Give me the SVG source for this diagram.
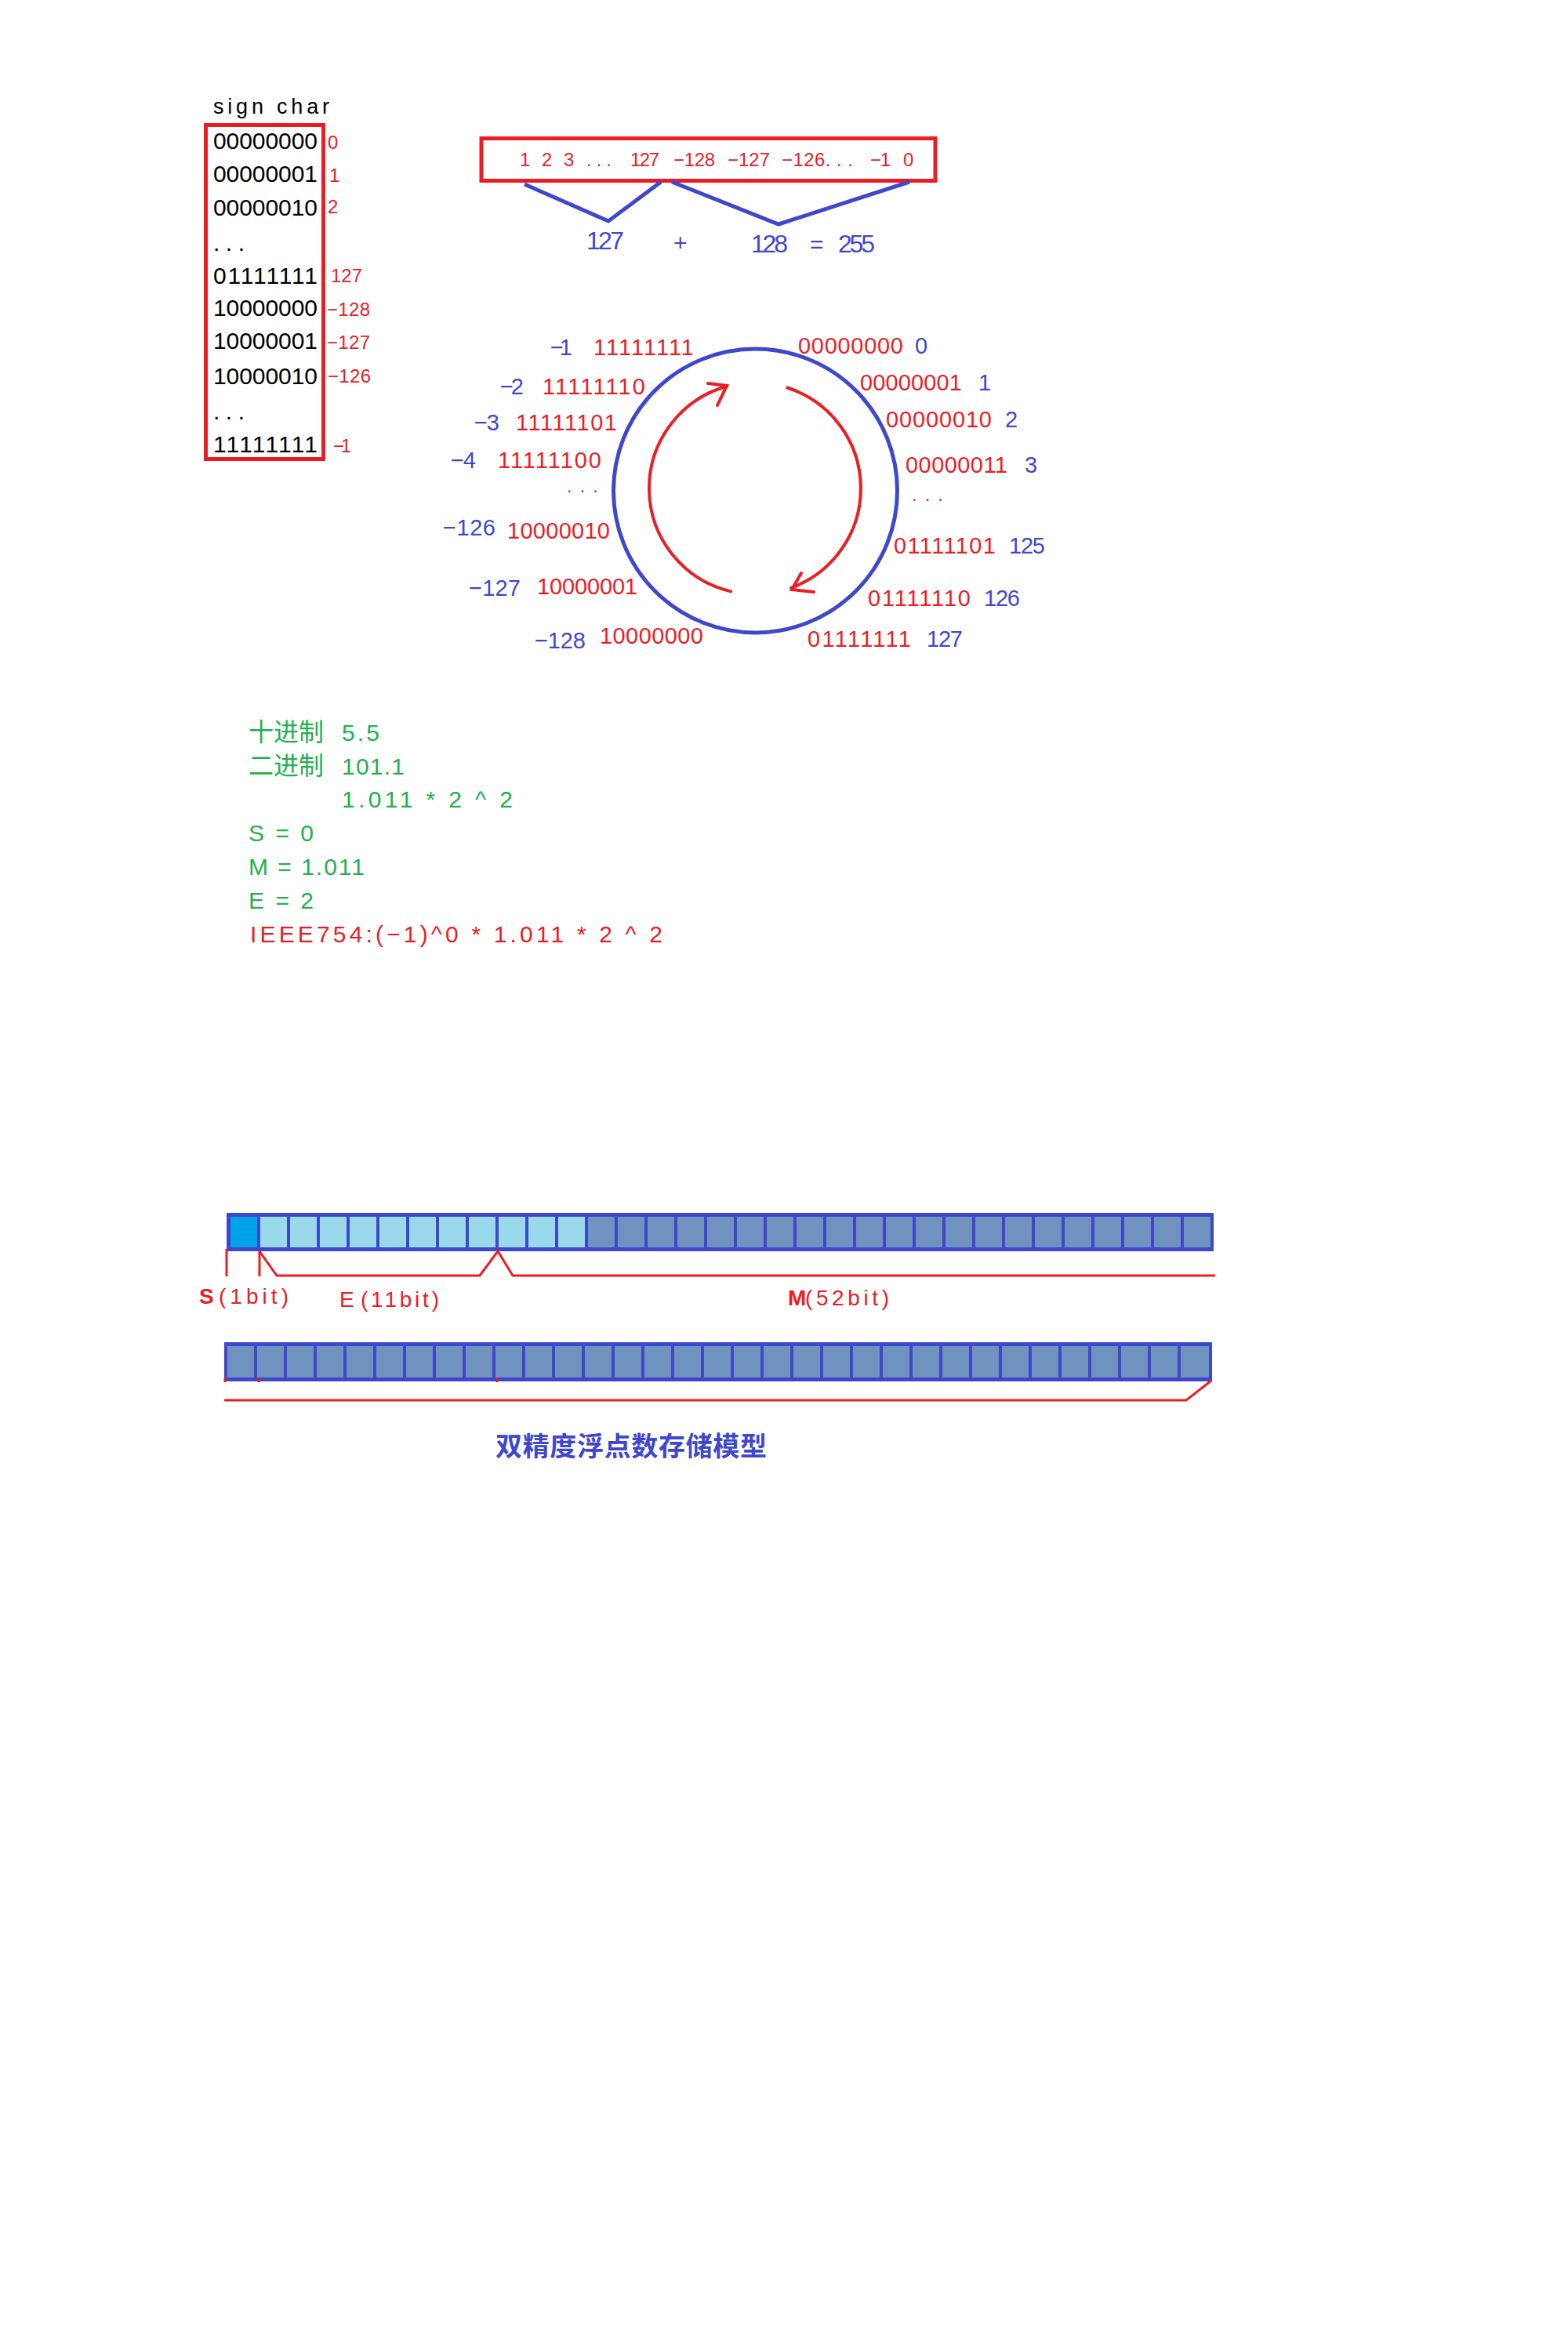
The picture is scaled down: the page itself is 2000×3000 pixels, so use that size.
<svg xmlns="http://www.w3.org/2000/svg" width="2000" height="3000" viewBox="0 0 2000 3000">
<style>
text { font-family: "Liberation Sans", "Noto Sans CJK SC", sans-serif; }
.k { fill:#000000; font-size:30px; }
.r { fill:#ed1c24; }
.b { fill:#3f48cc; }
.g { fill:#22b14c; }
.f24 { font-size:24px; }
.f29 { font-size:29px; }
.f30 { font-size:30px; }
.f28 { font-size:28px; }
.redbox { fill:none; stroke:#ed1c24; stroke-width:5; }
.bline { fill:none; stroke:#3f48cc; stroke-width:5; stroke-linejoin:miter; }
.rline { fill:none; stroke:#ed1c24; stroke-width:3; }
.rarc { fill:none; stroke:#ed1c24; stroke-width:4; stroke-linecap:round; }
.cS { fill:#00a2e8; }
.cE { fill:#99d9ea; }
.cM { fill:#7092be; }
</style>
<rect width="2000" height="3000" fill="#ffffff"/>

<!-- sign char table -->
<g id="signchar">
  <text class="k" x="272" y="145" textLength="148" lengthAdjust="spacing" style="font-size:27px">sign char</text>
  <rect class="redbox" x="262.5" y="159.5" width="150" height="426"/>
  <text class="k" x="272" y="190" textLength="133">00000000</text>
  <text class="k" x="272" y="232" textLength="133">00000001</text>
  <text class="k" x="272" y="275" textLength="133">00000010</text>
  <text class="k" x="272" y="320" textLength="40" lengthAdjust="spacing">. . .</text>
  <text class="k" x="272" y="362" textLength="133">01111111</text>
  <text class="k" x="272" y="403" textLength="133">10000000</text>
  <text class="k" x="272" y="445" textLength="133">10000001</text>
  <text class="k" x="272" y="490" textLength="133">10000010</text>
  <text class="k" x="272" y="535" textLength="40" lengthAdjust="spacing">. . .</text>
  <text class="k" x="272" y="577" textLength="133">11111111</text>
  <text class="r f24" x="418" y="190">0</text>
  <text class="r f24" x="420" y="232">1</text>
  <text class="r f24" x="418" y="272">2</text>
  <text class="r f24" x="422" y="360" textLength="40">127</text>
  <text class="r f24" x="417" y="403" textLength="55">−128</text>
  <text class="r f24" x="417" y="445" textLength="55">−127</text>
  <text class="r f24" x="418" y="488" textLength="55">−126</text>
  <text class="r f24" x="425" y="577" textLength="23">−1</text>
</g>

<!-- sequence box -->
<g id="sequence">
  <rect class="redbox" x="614" y="176.5" width="579" height="54"/>
  <text class="r f24" x="663" y="212">1</text>
  <text class="r f24" x="691" y="212">2</text>
  <text class="r f24" x="719" y="212">3</text>
  <text class="r f24" x="748" y="212" textLength="32" lengthAdjust="spacing">. . .</text>
  <text class="r f24" x="804" y="212" textLength="37">127</text>
  <text class="r f24" x="859" y="212" textLength="53">−128</text>
  <text class="r f24" x="928" y="212" textLength="54">−127</text>
  <text class="r f24" x="997" y="212" textLength="91">−126. . .</text>
  <text class="r f24" x="1110" y="212" textLength="26">−1</text>
  <text class="r f24" x="1152" y="212" textLength="13">0</text>
</g>

<g id="sum">
  <text class="b" x="748" y="318" textLength="48" style="font-size:32px">127</text>
  <text class="b f30" x="859" y="320">+</text>
  <text class="b" x="958" y="322" textLength="47" style="font-size:32px">128</text>
  <text class="b f30" x="1033" y="322">=</text>
  <text class="b" x="1069" y="322" textLength="47" style="font-size:32px">255</text>
</g>

<!-- ring -->
<g id="ring">
  <circle cx="963.5" cy="626" r="181" fill="none" stroke="#3f48cc" stroke-width="5"/>
</g>

<g id="ring-labels-left">
  <text class="b f29" x="702" y="453" textLength="28">−1</text>
  <text class="r f29" x="757" y="453" textLength="128">11111111</text>
  <text class="b f29" x="638" y="503" textLength="30">−2</text>
  <text class="r f29" x="692" y="503" textLength="131">11111110</text>
  <text class="b f29" x="605" y="549" textLength="32">−3</text>
  <text class="r f29" x="658" y="549" textLength="129">11111101</text>
  <text class="b f29" x="575" y="597" textLength="32">−4</text>
  <text class="r f29" x="635" y="597" textLength="132">11111100</text>
  <text class="r f24" x="723" y="628" textLength="40" lengthAdjust="spacing">. . .</text>
  <text class="b f29" x="565" y="683" textLength="67">−126</text>
  <text class="r f29" x="647" y="687" textLength="131">10000010</text>
  <text class="b f29" x="598" y="760" textLength="66">−127</text>
  <text class="r f29" x="685" y="758" textLength="128">10000001</text>
  <text class="b f29" x="682" y="827" textLength="65">−128</text>
  <text class="r f29" x="765" y="821" textLength="132">10000000</text>
</g>

<g id="ring-labels-right">
  <text class="r f29" x="1018" y="451" textLength="134">00000000</text>
  <text class="b f29" x="1167" y="451">0</text>
  <text class="r f29" x="1097" y="498" textLength="130">00000001</text>
  <text class="b f29" x="1248" y="498">1</text>
  <text class="r f29" x="1130" y="545" textLength="135">00000010</text>
  <text class="b f29" x="1282" y="545">2</text>
  <text class="r f29" x="1155" y="603" textLength="130">00000011</text>
  <text class="b f29" x="1307" y="603">3</text>
  <text class="r f24" x="1163" y="639" textLength="40" lengthAdjust="spacing">. . .</text>
  <text class="r f29" x="1140" y="706" textLength="130">01111101</text>
  <text class="b f29" x="1287" y="706" textLength="46">125</text>
  <text class="r f29" x="1107" y="773" textLength="131">01111110</text>
  <text class="b f29" x="1255" y="773" textLength="46">126</text>
  <text class="r f29" x="1030" y="825" textLength="132">01111111</text>
  <text class="b f29" x="1182" y="825" textLength="46">127</text>
</g>

<!-- IEEE example -->
<g id="ieee-example">
  <text class="g" x="317" y="945" style="font-size:32px">十进制</text>
  <text class="g f30" x="436" y="945" textLength="48" lengthAdjust="spacing">5.5</text>
  <text class="g" x="317" y="988" style="font-size:32px">二进制</text>
  <text class="g f30" x="436" y="988" textLength="80" lengthAdjust="spacing">101.1</text>
  <text class="g f30" x="436" y="1030" textLength="218" lengthAdjust="spacing">1.011 * 2 ^ 2</text>
  <text class="g f30" x="317" y="1073" textLength="83" lengthAdjust="spacing">S = 0</text>
  <text class="g f30" x="317" y="1116" textLength="148" lengthAdjust="spacing">M = 1.011</text>
  <text class="g f30" x="317" y="1159" textLength="83" lengthAdjust="spacing">E = 2</text>
  <text class="r f30" x="319" y="1202" textLength="526" lengthAdjust="spacing">IEEE754:(−1)^0 * 1.011 * 2 ^ 2</text>
</g>

<!-- bit bar 1 -->
<g id="bitbar1">
  <rect x="289" y="1547" width="1259" height="49" fill="#3f48cc"/>
  <rect class="cS" x="294" y="1552" width="34" height="39"/>
  <rect class="cE" x="332" y="1552" width="34" height="39"/>
  <rect class="cE" x="370" y="1552" width="34" height="39"/>
  <rect class="cE" x="408" y="1552" width="34" height="39"/>
  <rect class="cE" x="446" y="1552" width="34" height="39"/>
  <rect class="cE" x="484" y="1552" width="34" height="39"/>
  <rect class="cE" x="522" y="1552" width="34" height="39"/>
  <rect class="cE" x="560" y="1552" width="34" height="39"/>
  <rect class="cE" x="598" y="1552" width="34" height="39"/>
  <rect class="cE" x="636" y="1552" width="34" height="39"/>
  <rect class="cE" x="674" y="1552" width="34" height="39"/>
  <rect class="cE" x="712" y="1552" width="34" height="39"/>
  <rect class="cM" x="750" y="1552" width="34" height="39"/>
  <rect class="cM" x="788" y="1552" width="34" height="39"/>
  <rect class="cM" x="826" y="1552" width="34" height="39"/>
  <rect class="cM" x="864" y="1552" width="34" height="39"/>
  <rect class="cM" x="902" y="1552" width="34" height="39"/>
  <rect class="cM" x="940" y="1552" width="34" height="39"/>
  <rect class="cM" x="978" y="1552" width="34" height="39"/>
  <rect class="cM" x="1016" y="1552" width="34" height="39"/>
  <rect class="cM" x="1054" y="1552" width="34" height="39"/>
  <rect class="cM" x="1092" y="1552" width="34" height="39"/>
  <rect class="cM" x="1130" y="1552" width="34" height="39"/>
  <rect class="cM" x="1168" y="1552" width="34" height="39"/>
  <rect class="cM" x="1206" y="1552" width="34" height="39"/>
  <rect class="cM" x="1244" y="1552" width="34" height="39"/>
  <rect class="cM" x="1282" y="1552" width="34" height="39"/>
  <rect class="cM" x="1320" y="1552" width="34" height="39"/>
  <rect class="cM" x="1358" y="1552" width="34" height="39"/>
  <rect class="cM" x="1396" y="1552" width="34" height="39"/>
  <rect class="cM" x="1434" y="1552" width="34" height="39"/>
  <rect class="cM" x="1472" y="1552" width="34" height="39"/>
  <rect class="cM" x="1510" y="1552" width="34" height="39"/>
</g>

<g id="bitbar1-labels">
  <text class="r f28" x="254" y="1663" font-weight="bold">S</text>
  <text class="r f28" x="279" y="1663" textLength="89" lengthAdjust="spacing">(1bit)</text>
  <text class="r f28" x="433" y="1667">E</text>
  <text class="r f28" x="460" y="1667" textLength="100" lengthAdjust="spacing">(11bit)</text>
  <text class="r f28" x="1005" y="1665" font-weight="bold">M</text>
  <text class="r f28" x="1027" y="1665" textLength="107" lengthAdjust="spacing">(52bit)</text>
</g>

<!-- bit bar 2 -->
<g id="bitbar2">
  <rect x="286" y="1712" width="1260" height="50" fill="#3f48cc"/>
  <rect class="cM" x="290" y="1717" width="34" height="40"/>
  <rect class="cM" x="328" y="1717" width="34" height="40"/>
  <rect class="cM" x="366" y="1717" width="34" height="40"/>
  <rect class="cM" x="404" y="1717" width="34" height="40"/>
  <rect class="cM" x="442" y="1717" width="34" height="40"/>
  <rect class="cM" x="480" y="1717" width="34" height="40"/>
  <rect class="cM" x="518" y="1717" width="34" height="40"/>
  <rect class="cM" x="556" y="1717" width="34" height="40"/>
  <rect class="cM" x="594" y="1717" width="34" height="40"/>
  <rect class="cM" x="632" y="1717" width="34" height="40"/>
  <rect class="cM" x="670" y="1717" width="34" height="40"/>
  <rect class="cM" x="708" y="1717" width="34" height="40"/>
  <rect class="cM" x="746" y="1717" width="34" height="40"/>
  <rect class="cM" x="784" y="1717" width="34" height="40"/>
  <rect class="cM" x="822" y="1717" width="34" height="40"/>
  <rect class="cM" x="860" y="1717" width="34" height="40"/>
  <rect class="cM" x="898" y="1717" width="34" height="40"/>
  <rect class="cM" x="936" y="1717" width="34" height="40"/>
  <rect class="cM" x="974" y="1717" width="34" height="40"/>
  <rect class="cM" x="1012" y="1717" width="34" height="40"/>
  <rect class="cM" x="1050" y="1717" width="34" height="40"/>
  <rect class="cM" x="1088" y="1717" width="34" height="40"/>
  <rect class="cM" x="1126" y="1717" width="34" height="40"/>
  <rect class="cM" x="1164" y="1717" width="34" height="40"/>
  <rect class="cM" x="1202" y="1717" width="34" height="40"/>
  <rect class="cM" x="1240" y="1717" width="34" height="40"/>
  <rect class="cM" x="1278" y="1717" width="34" height="40"/>
  <rect class="cM" x="1316" y="1717" width="34" height="40"/>
  <rect class="cM" x="1354" y="1717" width="34" height="40"/>
  <rect class="cM" x="1392" y="1717" width="34" height="40"/>
  <rect class="cM" x="1430" y="1717" width="34" height="40"/>
  <rect class="cM" x="1468" y="1717" width="34" height="40"/>
  <rect class="cM" x="1506" y="1717" width="36" height="40"/>
</g>

<g id="title">
  <text class="b" x="632" y="1857" font-weight="bold" textLength="346" style="font-size:34px">双精度浮点数存储模型</text>
</g>

<!-- connectors -->
<g id="connectors">
  <polyline class="bline" points="669,235 776,282 843,232"/>
  <polyline class="bline" points="857,232 993,286 1160,232"/>
  <path class="rarc" d="M 932.2 754.4 A 135 135 0 0 1 927.2 492.8"/>
  <polyline class="rarc" points="903,489 927,492 915,517"/>
  <path class="rarc" d="M 1004.3 494.5 A 135 135 0 0 1 1009 749.9"/>
  <polyline class="rarc" points="1022,731 1010,752 1038,755"/>
  <line class="rline" x1="289" y1="1593" x2="289" y2="1628"/>
  <line class="rline" x1="331" y1="1596" x2="331" y2="1628"/>
  <polyline class="rline" points="331,1596 353,1627 612,1627 635,1596 654,1627 1550,1627"/>
  <line class="rline" x1="287" y1="1757" x2="287" y2="1763"/>
  <line class="rline" x1="330" y1="1757" x2="330" y2="1763"/>
  <line class="rline" x1="634" y1="1757" x2="634" y2="1763"/>
  <polyline class="rline" points="286,1786 1513,1786 1545,1761"/>
</g>
</svg>
